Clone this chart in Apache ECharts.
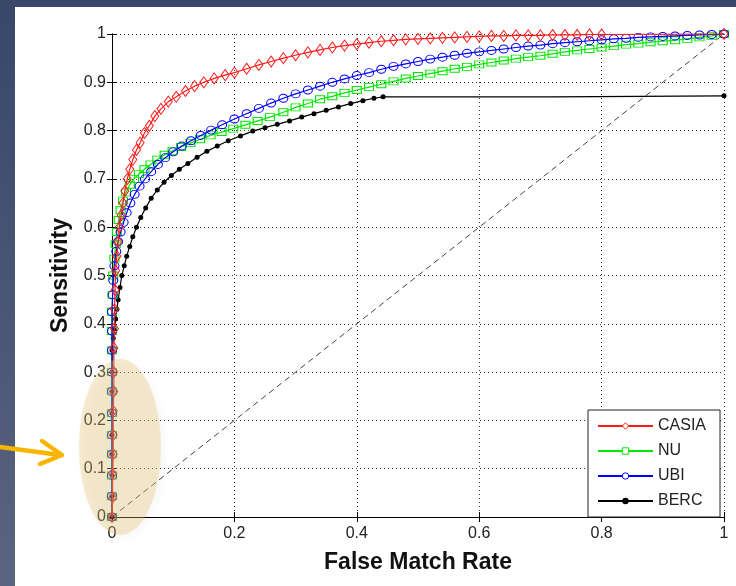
<!DOCTYPE html>
<html>
<head>
<meta charset="utf-8">
<script src="https://cdn.jsdelivr.net/npm/echarts@6/dist/echarts.min.js"></script>
<style>
  html, body { margin: 0; padding: 0; }
  #chart {
    width: 736px;
    height: 586px;
    background: linear-gradient(to bottom, #38476a, #5b6480);
  }
</style>
</head>
<body>
<div id="chart"></div>
<script>
const xTicks = [0, 0.2, 0.4, 0.6, 0.8, 1]
const yTicks = [0, 0.1, 0.2, 0.3, 0.4, 0.5, 0.6, 0.7, 0.8, 0.9, 1]

const casiaX = [0, 0.001, 0.001, 0.002, 0.002, 0.002, 0.003, 0.003, 0.003, 0.004, 0.004, 0.005, 0.006, 0.008, 0.010, 0.012, 0.015, 0.018, 0.021, 0.025, 0.029, 0.034, 0.040, 0.046, 0.053, 0.061, 0.070, 0.080, 0.092, 0.105, 0.12, 0.135, 0.15, 0.167, 0.185, 0.2, 0.22, 0.24, 0.26, 0.28, 0.30, 0.32, 0.34, 0.36, 0.38, 0.40, 0.42, 0.44, 0.46, 0.48, 0.50, 0.52, 0.54, 0.56, 0.58, 0.60, 0.62, 0.64, 0.66, 0.68, 0.70, 0.72, 0.74, 0.76, 0.78, 0.80, 1.0]
const casiaY = [0, 0.04, 0.09, 0.13, 0.17, 0.22, 0.26, 0.30, 0.35, 0.39, 0.43, 0.47, 0.51, 0.54, 0.57, 0.60, 0.625, 0.65, 0.675, 0.70, 0.72, 0.74, 0.76, 0.775, 0.795, 0.81, 0.83, 0.845, 0.86, 0.87, 0.882, 0.892, 0.90, 0.908, 0.915, 0.92, 0.928, 0.936, 0.943, 0.95, 0.956, 0.962, 0.967, 0.972, 0.976, 0.979, 0.982, 0.985, 0.987, 0.989, 0.99, 0.991, 0.992, 0.993, 0.994, 0.995, 0.996, 0.996, 0.997, 0.997, 0.997, 0.998, 0.998, 0.998, 0.999, 0.999, 1.0]

const nuX = [0, 0, 0, 0, 0, 0, 0, 0, 0, 0, 0, 0.001, 0.002, 0.004, 0.006, 0.008, 0.011, 0.014, 0.018, 0.023, 0.029, 0.036, 0.044, 0.053, 0.063, 0.074, 0.086, 0.099, 0.113, 0.128, 0.144, 0.161, 0.179, 0.198, 0.218, 0.238, 0.258, 0.28, 0.30, 0.32, 0.34, 0.36, 0.38, 0.40, 0.42, 0.44, 0.46, 0.48, 0.50, 0.52, 0.54, 0.56, 0.58, 0.60, 0.62, 0.64, 0.66, 0.68, 0.70, 0.72, 0.74, 0.76, 0.78, 0.80, 0.82, 0.84, 0.86, 0.88, 0.90, 0.92, 0.94, 0.96, 0.98, 1.0]
const nuY = [0, 0.043, 0.086, 0.13, 0.17, 0.215, 0.26, 0.30, 0.345, 0.385, 0.425, 0.46, 0.50, 0.535, 0.565, 0.59, 0.615, 0.635, 0.655, 0.672, 0.688, 0.70, 0.71, 0.72, 0.73, 0.74, 0.75, 0.758, 0.766, 0.774, 0.782, 0.79, 0.797, 0.804, 0.812, 0.82, 0.828, 0.838, 0.848, 0.856, 0.865, 0.871, 0.878, 0.884, 0.89, 0.896, 0.902, 0.908, 0.913, 0.918, 0.923, 0.928, 0.932, 0.937, 0.941, 0.945, 0.949, 0.952, 0.955, 0.959, 0.963, 0.966, 0.969, 0.972, 0.975, 0.978, 0.98, 0.983, 0.985, 0.987, 0.99, 0.993, 0.996, 1.0]

const ubiX = [0, 0, 0, 0, 0, 0, 0, 0, 0, 0, 0, 0.001, 0.002, 0.004, 0.007, 0.01, 0.014, 0.019, 0.024, 0.03, 0.037, 0.045, 0.054, 0.064, 0.075, 0.087, 0.1, 0.114, 0.129, 0.145, 0.162, 0.18, 0.2, 0.22, 0.24, 0.26, 0.28, 0.30, 0.32, 0.34, 0.36, 0.38, 0.40, 0.42, 0.44, 0.46, 0.48, 0.50, 0.52, 0.54, 0.56, 0.58, 0.60, 0.62, 0.64, 0.66, 0.68, 0.70, 0.72, 0.74, 0.76, 0.78, 0.80, 0.82, 0.84, 0.86, 0.88, 0.90, 0.92, 0.94, 0.96, 0.98, 1.0]
const ubiY = [0, 0.043, 0.086, 0.13, 0.17, 0.215, 0.26, 0.30, 0.345, 0.385, 0.425, 0.46, 0.49, 0.52, 0.55, 0.57, 0.59, 0.61, 0.63, 0.65, 0.668, 0.685, 0.7, 0.715, 0.73, 0.744, 0.756, 0.768, 0.779, 0.79, 0.801, 0.812, 0.824, 0.835, 0.846, 0.857, 0.867, 0.876, 0.884, 0.892, 0.9, 0.907, 0.914, 0.92, 0.927, 0.933, 0.938, 0.943, 0.948, 0.952, 0.956, 0.96, 0.963, 0.966, 0.969, 0.972, 0.975, 0.977, 0.98, 0.982, 0.984, 0.986, 0.988, 0.99, 0.991, 0.993, 0.994, 0.995, 0.996, 0.997, 0.998, 0.999, 1.0]

const bercX = [0, 0, 0, 0, 0, 0, 0, 0, 0, 0.002, 0.004, 0.006, 0.008, 0.01, 0.013, 0.016, 0.02, 0.024, 0.029, 0.034, 0.04, 0.047, 0.055, 0.064, 0.074, 0.085, 0.097, 0.11, 0.124, 0.139, 0.155, 0.172, 0.19, 0.21, 0.23, 0.25, 0.27, 0.29, 0.31, 0.33, 0.35, 0.37, 0.39, 0.41, 0.428, 0.443]
const bercY = [0, 0.043, 0.086, 0.13, 0.17, 0.215, 0.26, 0.30, 0.345, 0.37, 0.39, 0.41, 0.43, 0.45, 0.475, 0.5, 0.52, 0.54, 0.56, 0.58, 0.6, 0.62, 0.64, 0.66, 0.677, 0.693, 0.707, 0.72, 0.732, 0.745, 0.757, 0.768, 0.779, 0.789, 0.799, 0.806, 0.813, 0.82, 0.828, 0.835, 0.842, 0.849, 0.856, 0.862, 0.867, 0.87]
// flat part after the last threshold, only the end point is marked
const bercTailX = [0.72, 0.72, 1.0]
const bercTailY = [0.87, 0.872, 0.872]

const chanceX = [0, 1]
const chanceY = [0, 1]

const zip = (xs, ys) => xs.map((x, i) => [x, ys[i]])

const bercData = zip(bercX, bercY).concat(
  zip(bercTailX, bercTailY).map((p, i, arr) => ({
    value: p,
    symbol: i === arr.length - 1 ? 'circle' : 'none',
  }))
)

const font = 'Liberation Sans, Arial, Helvetica, sans-serif'
const hollow = c => ({ color: '#fff', borderColor: c, borderWidth: 1 })

const chart = echarts.init(document.getElementById('chart'))
chart.setOption({
  backgroundColor: 'transparent',
  animation: false,
  textStyle: { fontFamily: font },
  grid: { left: 112, right: 12, top: 34, bottom: 69 },
  graphic: [
    {
      type: 'rect',
      z: -100,
      shape: { x: 15, y: 7, width: 721, height: 579 },
      style: { fill: '#fff' },
    },
    {
      type: 'ellipse',
      z: 100,
      shape: { cx: 120, cy: 447, rx: 41, ry: 88 },
      style: {
        fill: 'rgba(232,196,110,0.33)',
        shadowBlur: 10,
        shadowColor: 'rgba(0,0,0,0.1)',
        shadowOffsetX: 3,
        shadowOffsetY: 3,
      },
    },
    {
      type: 'polyline',
      z: 100,
      shape: { points: [[0, 447], [60, 455]] },
      style: { stroke: '#f7b500', lineWidth: 4.5, lineCap: 'round' },
    },
    {
      type: 'polyline',
      z: 100,
      shape: { points: [[42, 441], [62, 455], [40, 464]] },
      style: { stroke: '#f7b500', lineWidth: 4.5, lineCap: 'round', lineJoin: 'round', fill: null },
    },
  ],
  legend: {
    left: 588,
    top: 410,
    orient: 'vertical',
    backgroundColor: '#fff',
    borderColor: '#222',
    borderWidth: 1,
    padding: [8, 14, 8, 9],
    itemWidth: 55,
    itemHeight: 8,
    itemGap: 9,
    textStyle: { fontSize: 16, color: '#222', lineHeight: 14 },
    data: [
      { name: 'CASIA', itemStyle: hollow('#ff1a1a') },
      { name: 'NU', itemStyle: hollow('#00e600') },
      { name: 'UBI', itemStyle: hollow('#0000ff') },
      { name: 'BERC' },
    ],
  },
  xAxis: [
    {
      type: 'value',
      min: 0,
      max: 1,
      interval: 0.2,
      name: 'False Match Rate',
      nameLocation: 'middle',
      nameGap: 34,
      nameTextStyle: { fontSize: 23, fontWeight: 'bold', color: '#111' },
      axisLine: { lineStyle: { color: '#000', width: 1 } },
      axisTick: { inside: true, length: 5, lineStyle: { color: '#000' } },
      axisLabel: { fontSize: 16, color: '#222', margin: 9 },
      splitLine: { show: true, lineStyle: { color: '#333', type: [1, 3] } },
    },
    {
      type: 'value',
      position: 'top',
      min: 0,
      max: 1,
      interval: 0.2,
      axisLine: { lineStyle: { color: '#000', width: 1 } },
      axisTick: { inside: true, length: 5, lineStyle: { color: '#000' } },
      axisLabel: { show: false },
      splitLine: { show: false },
    },
  ],
  yAxis: [
    {
      type: 'value',
      min: 0,
      max: 1,
      interval: 0.1,
      name: 'Sensitivity',
      nameLocation: 'middle',
      nameGap: 40,
      nameTextStyle: { fontSize: 23, fontWeight: 'bold', color: '#111' },
      axisLine: { show: true, lineStyle: { color: '#000', width: 1 } },
      axisTick: { show: true, inside: true, length: 5, lineStyle: { color: '#000' } },
      axisLabel: { fontSize: 16, color: '#222', margin: 6 },
      splitLine: { show: true, lineStyle: { color: '#333', type: [1, 3] } },
    },
    {
      type: 'value',
      position: 'right',
      min: 0,
      max: 1,
      interval: 0.1,
      axisLine: { show: true, lineStyle: { color: '#000', width: 1 } },
      axisTick: { show: true, inside: true, length: 5, lineStyle: { color: '#000' } },
      axisLabel: { show: false },
      splitLine: { show: false },
    },
  ],
  series: [
    {
      name: 'chance',
      type: 'line',
      data: zip(chanceX, chanceY),
      symbol: 'none',
      lineStyle: { color: '#444', width: 1, type: [6, 4] },
      z: 1,
    },
    {
      name: 'BERC',
      type: 'line',
      data: bercData,
      clip: false,
      symbol: 'circle',
      symbolSize: 5,
      itemStyle: { color: '#000' },
      lineStyle: { color: '#000', width: 1.2 },
      z: 2,
    },
    {
      name: 'NU',
      type: 'line',
      data: zip(nuX, nuY),
      clip: false,
      symbol: 'rect',
      symbolSize: [9, 7],
      itemStyle: { color: 'rgba(0,0,0,0)', borderColor: '#00e600', borderWidth: 1 },
      lineStyle: { color: '#00e600', width: 1.2 },
      z: 3,
    },
    {
      name: 'UBI',
      type: 'line',
      data: zip(ubiX, ubiY),
      clip: false,
      symbol: 'circle',
      symbolSize: [9, 8],
      itemStyle: { color: 'rgba(0,0,0,0)', borderColor: '#0000ff', borderWidth: 1 },
      lineStyle: { color: '#0000ff', width: 1.2 },
      z: 4,
    },
    {
      name: 'CASIA',
      type: 'line',
      data: zip(casiaX, casiaY),
      clip: false,
      symbol: 'diamond',
      symbolSize: [8, 11],
      itemStyle: { color: 'rgba(0,0,0,0)', borderColor: '#ff1a1a', borderWidth: 1 },
      lineStyle: { color: '#ff1a1a', width: 1.2 },
      z: 5,
    },
  ],
})
</script>
</body>
</html>
